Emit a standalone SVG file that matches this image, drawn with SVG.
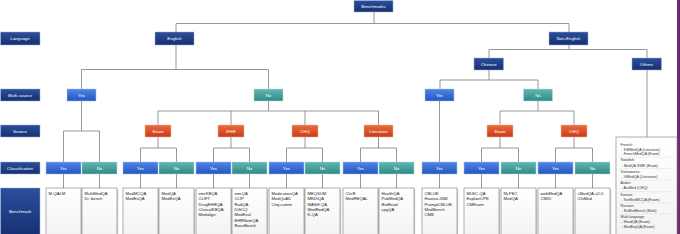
<svg xmlns="http://www.w3.org/2000/svg" width="680" height="234" viewBox="0 0 680 234">
<defs>
<linearGradient id="gNavy" x1="0" y1="0" x2="0" y2="1"><stop offset="0" stop-color="#2b4f9c"/><stop offset="1" stop-color="#163072"/></linearGradient>
<linearGradient id="gYes" x1="0" y1="0" x2="0" y2="1"><stop offset="0" stop-color="#4f86e6"/><stop offset="1" stop-color="#2455c2"/></linearGradient>
<linearGradient id="gNo" x1="0" y1="0" x2="0" y2="1"><stop offset="0" stop-color="#62b6b2"/><stop offset="1" stop-color="#2f8a87"/></linearGradient>
<linearGradient id="gOr" x1="0" y1="0" x2="0" y2="1"><stop offset="0" stop-color="#ec6a3e"/><stop offset="1" stop-color="#c83c17"/></linearGradient>
<linearGradient id="gWh" x1="0" y1="0" x2="0" y2="1"><stop offset="0" stop-color="#ffffff"/><stop offset="1" stop-color="#f3f3f3"/></linearGradient>
</defs>
<style>
.navy{fill:url(#gNavy);stroke:#9fb0d6;stroke-width:0.5}
.yes{fill:url(#gYes);stroke:#a9c0ee;stroke-width:0.5}
.no{fill:url(#gNo);stroke:#b4dcda;stroke-width:0.5}
.src{fill:url(#gOr);stroke:#f2b7a2;stroke-width:0.5}
.bm{fill:url(#gWh);stroke:#8c8c8c;stroke-width:0.7}
.sh{fill:#cfcfcf}
.t{font-family:"Liberation Sans",Arial,sans-serif;font-size:4.4px;fill:#ffffff;text-anchor:middle;dominant-baseline:central}
.b{font-family:"Liberation Sans",Arial,sans-serif;font-size:4.2px;fill:#222}
.l{font-family:"Liberation Sans",Arial,sans-serif;font-size:3.6px;fill:#333}
.c{fill:none;stroke:#8a8a8a;stroke-width:0.9}
.sep{stroke:#d6d6d6;stroke-width:0.4}
</style>
<rect width="680" height="234" fill="#ffffff"/>
<rect x="677" y="0" width="3" height="234" fill="#6b2a72"/>

<g id="connectors" class="c">
<path d="M374 12V23.5M176 23.5H569M176 23.5V32M569 23.5V32"/>
<path d="M176 45V69.5M81.5 69.5H268.5M81.5 69.5V89M268.5 69.5V89"/>
<path d="M81.5 101V131M63.5 131H99.5M63.5 131V162M99.5 131V162"/>
<path d="M268.5 101V111M158 111H378.5M158 111V125M231 111V125M305 111V125M378.5 111V125"/>
<path d="M158 137V148M140.5 148H176.5M140.5 148V162M176.5 148V162"/>
<path d="M231 137V148M213.5 148H249.5M213.5 148V162M249.5 148V162"/>
<path d="M305 137V148M286.5 148H322.5M286.5 148V162M322.5 148V162"/>
<path d="M378.5 137V148M360.5 148H396.5M360.5 148V162M396.5 148V162"/>
<path d="M569 45V49.5M489 49.5H647M489 49.5V58M647 49.5V58"/>
<path d="M489 70V80M440 80H538M440 80V89M538 80V89"/>
<path d="M439.5 101V162"/>
<path d="M538 101V111M500 111H574M500 111V125M574 111V125"/>
<path d="M500 137V148M481.5 148H518.5M481.5 148V162M518.5 148V162"/>
<path d="M574 137V148M555.5 148H592.5M555.5 148V162M592.5 148V162"/>
<path d="M647 70V137"/>
<path d="M63.5 174V188M99.5 174V188M140.5 174V188M176.5 174V188M213.5 174V188M249.5 174V188M286.5 174V188M322.5 174V188M360.5 174V188M396.5 174V188M439.5 174V188M481.5 174V188M518.5 174V188M555.5 174V188M592.5 174V188"/>
</g>

<g id="row-labels">
<g id="lbl-language"><rect class="navy" x="0.5" y="32" width="39.5" height="13"/><text class="t" x="20" y="38.5">Language</text></g>
<g id="lbl-multisource"><rect class="navy" x="0.5" y="89" width="39.5" height="12"/><text class="t" x="20" y="95">Multi-source</text></g>
<g id="lbl-source"><rect class="navy" x="0.5" y="125" width="39.5" height="12"/><text class="t" x="20" y="131">Source</text></g>
<g id="lbl-classification"><rect class="navy" x="0.5" y="162" width="39.5" height="12"/><text class="t" x="20" y="168">Classification</text></g>
<g id="lbl-benchmark"><rect class="navy" x="0.5" y="188" width="39.5" height="48"/><text class="t" x="20" y="211">Benchmark</text></g>
</g>

<g id="n-benchmarks"><rect class="navy" x="354" y="0.5" width="39" height="11.5"/><text class="t" x="373.5" y="6.3">Benchmarks</text></g>
<g id="n-english"><rect class="navy" x="155" y="32" width="39" height="13"/><text class="t" x="174.5" y="38.5">English</text></g>
<g id="n-nonenglish"><rect class="navy" x="549" y="32" width="39" height="13"/><text class="t" x="568.5" y="38.5">Non-English</text></g>
<g id="n-chinese"><rect class="navy" x="474" y="58" width="29.5" height="12"/><text class="t" x="488.7" y="64">Chinese</text></g>
<g id="n-others"><rect class="navy" x="632" y="58" width="29.5" height="12"/><text class="t" x="646.7" y="64">Others</text></g>

<g id="n-en-ms-yes"><rect class="yes" x="67" y="89" width="29" height="12"/><text class="t" x="81.5" y="95">Yes</text></g>
<g id="n-en-ms-no"><rect class="no" x="254" y="89" width="29" height="12"/><text class="t" x="268.5" y="95">No</text></g>
<g id="n-zh-ms-yes"><rect class="yes" x="425" y="89" width="29" height="12"/><text class="t" x="439.5" y="95">Yes</text></g>
<g id="n-zh-ms-no"><rect class="no" x="523.5" y="89" width="29" height="12"/><text class="t" x="538" y="95">No</text></g>

<g id="n-en-exam"><rect class="src" x="145" y="125" width="26" height="12"/><text class="t" x="158" y="131">Exam</text></g>
<g id="n-en-ehr"><rect class="src" x="218" y="125" width="26" height="12"/><text class="t" x="231" y="131">EHR</text></g>
<g id="n-en-chq"><rect class="src" x="292" y="125" width="26" height="12"/><text class="t" x="305" y="131">CHQ</text></g>
<g id="n-en-lit"><rect class="src" x="364" y="125" width="29" height="12"/><text class="t" x="378.5" y="131">Literature</text></g>
<g id="n-zh-exam"><rect class="src" x="487" y="125" width="26" height="12"/><text class="t" x="500" y="131">Exam</text></g>
<g id="n-zh-chq"><rect class="src" x="561" y="125" width="26" height="12"/><text class="t" x="574" y="131">CHQ</text></g>

<g id="classification">
<g id="c1"><rect class="yes" x="46" y="162" width="35" height="12"/><text class="t" x="63.5" y="168">Yes</text></g>
<g id="c2"><rect class="no" x="82" y="162" width="35" height="12"/><text class="t" x="99.5" y="168">No</text></g>
<g id="c3"><rect class="yes" x="123" y="162" width="35" height="12"/><text class="t" x="140.5" y="168">Yes</text></g>
<g id="c4"><rect class="no" x="159" y="162" width="35" height="12"/><text class="t" x="176.5" y="168">No</text></g>
<g id="c5"><rect class="yes" x="196" y="162" width="35" height="12"/><text class="t" x="213.5" y="168">Yes</text></g>
<g id="c6"><rect class="no" x="232" y="162" width="35" height="12"/><text class="t" x="249.5" y="168">No</text></g>
<g id="c7"><rect class="yes" x="269" y="162" width="35" height="12"/><text class="t" x="286.5" y="168">Yes</text></g>
<g id="c8"><rect class="no" x="305" y="162" width="35" height="12"/><text class="t" x="322.5" y="168">No</text></g>
<g id="c9"><rect class="yes" x="343" y="162" width="35" height="12"/><text class="t" x="360.5" y="168">Yes</text></g>
<g id="c10"><rect class="no" x="379" y="162" width="35" height="12"/><text class="t" x="396.5" y="168">No</text></g>
<g id="c11"><rect class="yes" x="422" y="162" width="35" height="12"/><text class="t" x="439.5" y="168">Yes</text></g>
<g id="c12"><rect class="yes" x="464" y="162" width="35" height="12"/><text class="t" x="481.5" y="168">Yes</text></g>
<g id="c13"><rect class="no" x="501" y="162" width="35" height="12"/><text class="t" x="518.5" y="168">No</text></g>
<g id="c14"><rect class="yes" x="538" y="162" width="35" height="12"/><text class="t" x="555.5" y="168">Yes</text></g>
<g id="c15"><rect class="no" x="575" y="162" width="35" height="12"/><text class="t" x="592.5" y="168">No</text></g>
</g>

<g id="benchmarks">
<g id="b1"><rect class="sh" x="47.2" y="189.2" width="35" height="48"/><rect class="bm" x="46" y="188" width="35" height="48"/><text class="b" x="48.5" y="195">M-QALM</text></g>
<g id="b2"><rect class="sh" x="83.2" y="189.2" width="35" height="48"/><rect class="bm" x="82" y="188" width="35" height="48"/><text class="b" x="84.5" y="195">MultiMedQA</text><text class="b" x="84.5" y="200.3">Dr. bench</text></g>
<g id="b3"><rect class="sh" x="124.2" y="189.2" width="35" height="48"/><rect class="bm" x="123" y="188" width="35" height="48"/><text class="b" x="125.5" y="195">MedMCQA</text><text class="b" x="125.5" y="200.3">MedExQA</text></g>
<g id="b4"><rect class="sh" x="160.2" y="189.2" width="35" height="48"/><rect class="bm" x="159" y="188" width="35" height="48"/><text class="b" x="161.5" y="195">MedQA</text><text class="b" x="161.5" y="200.3">MedExQA</text></g>
<g id="b5"><rect class="sh" x="197.2" y="189.2" width="35" height="48"/><rect class="bm" x="196" y="188" width="35" height="48"/><text class="b" x="198.5" y="195">emrKBQA</text><text class="b" x="198.5" y="200.3">CLIFT</text><text class="b" x="198.5" y="205.6">DrugEHRQA</text><text class="b" x="198.5" y="210.9">ClinicalKBQA</text><text class="b" x="198.5" y="216.2">Medalign</text></g>
<g id="b6"><rect class="sh" x="233.2" y="189.2" width="35" height="48"/><rect class="bm" x="232" y="188" width="35" height="48"/><text class="b" x="234.5" y="195">emrQA</text><text class="b" x="234.5" y="200.3">CLIP</text><text class="b" x="234.5" y="205.6">RadQA</text><text class="b" x="234.5" y="210.9">DiSCQ</text><text class="b" x="234.5" y="216.2">MedEval</text><text class="b" x="234.5" y="221.5">EHRNoteQA</text><text class="b" x="234.5" y="226.8">RaceBench</text></g>
<g id="b7"><rect class="sh" x="270.2" y="189.2" width="35" height="48"/><rect class="bm" x="269" y="188" width="35" height="48"/><text class="b" x="271.5" y="195">MedicationQA</text><text class="b" x="271.5" y="200.3">MedQuAD</text><text class="b" x="271.5" y="205.6">Chq-summ</text></g>
<g id="b8"><rect class="sh" x="306.2" y="189.2" width="35" height="48"/><rect class="bm" x="305" y="188" width="35" height="48"/><text class="b" x="307.5" y="195">MEQSUM</text><text class="b" x="307.5" y="200.3">MEDIQA</text><text class="b" x="307.5" y="205.6">MASH-QA</text><text class="b" x="307.5" y="210.9">MedRedQA</text><text class="b" x="307.5" y="216.2">K-QA</text></g>
<g id="b9"><rect class="sh" x="344.2" y="189.2" width="35" height="48"/><rect class="bm" x="343" y="188" width="35" height="48"/><text class="b" x="345.5" y="195">ClicR</text><text class="b" x="345.5" y="200.3">MedREQAL</text></g>
<g id="b10"><rect class="sh" x="380.2" y="189.2" width="35" height="48"/><rect class="bm" x="379" y="188" width="35" height="48"/><text class="b" x="381.5" y="195">HealthQA</text><text class="b" x="381.5" y="200.3">PubMedQA</text><text class="b" x="381.5" y="205.6">BioRead</text><text class="b" x="381.5" y="210.9">cpgQA</text></g>
<g id="b11"><rect class="sh" x="423.2" y="189.2" width="35" height="48"/><rect class="bm" x="422" y="188" width="35" height="48"/><text class="b" x="424.5" y="195">CBLUE</text><text class="b" x="424.5" y="200.3">Huatuo-26M</text><text class="b" x="424.5" y="205.6">PromptCBLUE</text><text class="b" x="424.5" y="210.9">MedBench</text><text class="b" x="424.5" y="216.2">CMB</text></g>
<g id="b12"><rect class="sh" x="465.2" y="189.2" width="35" height="48"/><rect class="bm" x="464" y="188" width="35" height="48"/><text class="b" x="466.5" y="195">MLEC-QA</text><text class="b" x="466.5" y="200.3">ExplainCPE</text><text class="b" x="466.5" y="205.6">CMExam</text></g>
<g id="b13"><rect class="sh" x="502.2" y="189.2" width="35" height="48"/><rect class="bm" x="501" y="188" width="35" height="48"/><text class="b" x="503.5" y="195">NLPEC</text><text class="b" x="503.5" y="200.3">MedQA</text></g>
<g id="b14"><rect class="sh" x="539.2" y="189.2" width="35" height="48"/><rect class="bm" x="538" y="188" width="35" height="48"/><text class="b" x="540.5" y="195">webMedQA</text><text class="b" x="540.5" y="200.3">CMID</text></g>
<g id="b15"><rect class="sh" x="576.2" y="189.2" width="35" height="48"/><rect class="bm" x="575" y="188" width="35" height="48"/><text class="b" x="577.5" y="195">cMedQA-v2.0</text><text class="b" x="577.5" y="200.3">ChiMed</text></g>
</g>

<g id="n-others-list">
<rect class="bm" x="616" y="137" width="61" height="99"/>
<line class="sep" x1="619" y1="157.3" x2="674" y2="157.3"/>
<line class="sep" x1="619" y1="168.7" x2="674" y2="168.7"/>
<line class="sep" x1="619" y1="180.2" x2="674" y2="180.2"/>
<line class="sep" x1="619" y1="191.8" x2="674" y2="191.8"/>
<line class="sep" x1="619" y1="203" x2="674" y2="203"/>
<line class="sep" x1="619" y1="214" x2="674" y2="214"/>
<text class="l" x="620.5" y="146">French:</text>
<text class="l" x="621.5" y="150.5">- FrBMedQA (Literature)</text>
<text class="l" x="621.5" y="155.3">- FrenchMedQA (Exam)</text>
<text class="l" x="620.5" y="161.3">Swedish:</text>
<text class="l" x="621.5" y="166.6">- MedQA-SWE (Exam)</text>
<text class="l" x="620.5" y="172.7">Vietnamese:</text>
<text class="l" x="621.5" y="177.7">- ViMedQA (Literature)</text>
<text class="l" x="620.5" y="184.3">Arabic:</text>
<text class="l" x="621.5" y="188.8">- AraMed (CHQ)</text>
<text class="l" x="620.5" y="196">Korean:</text>
<text class="l" x="621.5" y="200.7">- KorMedMCQA (Exam)</text>
<text class="l" x="620.5" y="207">Russian:</text>
<text class="l" x="621.5" y="212">- RuMedBench (Multi)</text>
<text class="l" x="620.5" y="218">Multi-language:</text>
<text class="l" x="621.5" y="222.7">- HeadQA (Exam)</text>
<text class="l" x="621.5" y="228">- MedExpQA (Exam)</text>
</g>
</svg>
